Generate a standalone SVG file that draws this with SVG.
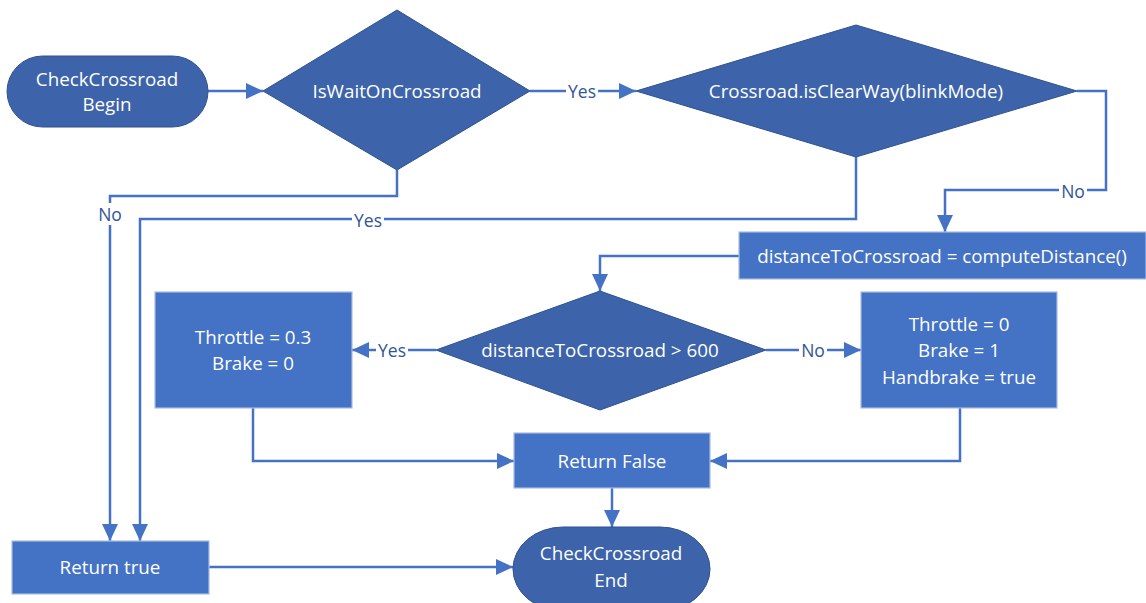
<svg xmlns="http://www.w3.org/2000/svg" width="1146" height="603" viewBox="0 0 1146 603">
<style>
.term{fill:#3D63AA;stroke:#2F528F;stroke-width:1}
.dec{fill:#3D63AA;stroke:#2F528F;stroke-width:1}
.proc{fill:#4472C4;stroke:#A9BCE0;stroke-width:1.2}
.t{font-family:"Open Sans","Liberation Sans",sans-serif;font-size:18.8px;fill:#FFFFFF;text-anchor:middle;dominant-baseline:central}
.c{fill:none;stroke:#4472C4;stroke-width:2.5}
.lbl{font-family:"Open Sans","Liberation Sans",sans-serif;font-size:17.5px;fill:#2F5597;text-anchor:middle;dominant-baseline:central}
.lb{fill:#FFFFFF}
</style>
<defs>
<marker id="ah" markerUnits="userSpaceOnUse" markerWidth="18" markerHeight="18" viewBox="0 0 18 18" refX="17" refY="9" orient="auto">
<path d="M0,1 L17,9 L0,17 Z" fill="#4472C4"/>
</marker>
</defs>
<rect width="1146" height="603" fill="#FFFFFF"/>
<g id="connectors">
<path class="c" d="M208,91 H263" marker-end="url(#ah)"/>
<path class="c" d="M530,91 H636" marker-end="url(#ah)"/>
<path class="c" d="M1077,91 H1106 V190 H945 V232" marker-end="url(#ah)"/>
<path class="c" d="M739,256 H600 V291" marker-end="url(#ah)"/>
<path class="c" d="M436,350 H352" marker-end="url(#ah)"/>
<path class="c" d="M766,350 H861" marker-end="url(#ah)"/>
<path class="c" d="M253,408 V461 H514" marker-end="url(#ah)"/>
<path class="c" d="M960,408 V461 H710" marker-end="url(#ah)"/>
<path class="c" d="M612,488 V527" marker-end="url(#ah)"/>
<path class="c" d="M209,567 H513" marker-end="url(#ah)"/>
<path class="c" d="M397,170 V196 H110 V541" marker-end="url(#ah)"/>
<path class="c" d="M856,157 V219 H140 V541" marker-end="url(#ah)"/>
<rect class="lb" x="566" y="81" width="32" height="20"/>
<text class="lbl" x="582" y="91">Yes</text>
<rect class="lb" x="1059" y="181" width="28" height="20"/>
<text class="lbl" x="1073" y="191">No</text>
<rect class="lb" x="376" y="340" width="32" height="20"/>
<text class="lbl" x="392" y="350">Yes</text>
<rect class="lb" x="799" y="340" width="28" height="20"/>
<text class="lbl" x="813" y="350">No</text>
<rect class="lb" x="97" y="203" width="26" height="22"/>
<text class="lbl" x="110" y="214">No</text>
<rect class="lb" x="352" y="210" width="32" height="20"/>
<text class="lbl" x="368" y="220">Yes</text>
</g>
<g id="begin">
<rect class="term" x="7" y="56" width="201" height="71" rx="35.5" ry="35.5"/>
<text class="t" x="107" y="79">CheckCrossroad</text>
<text class="t" x="107" y="104">Begin</text>
</g>
<g id="isWait">
<polygon class="dec" points="263,91 397,10 530,91 397,170"/>
<text class="t" x="397" y="91">IsWaitOnCrossroad</text>
</g>
<g id="isClear">
<polygon class="dec" points="636,91 856,25 1077,91 856,157"/>
<text class="t" x="856" y="91">Crossroad.isClearWay(blinkMode)</text>
</g>
<g id="computeDist">
<rect class="proc" x="739" y="232" width="407" height="47"/>
<text class="t" x="942" y="256">distanceToCrossroad = computeDistance()</text>
</g>
<g id="distCheck">
<polygon class="dec" points="436,350 600,291 766,350 600,410"/>
<text class="t" x="600" y="350">distanceToCrossroad &gt; 600</text>
</g>
<g id="throttle03">
<rect class="proc" x="155" y="292" width="197" height="116"/>
<text class="t" x="253" y="337">Throttle = 0.3</text>
<text class="t" x="253" y="363">Brake = 0</text>
</g>
<g id="throttle0">
<rect class="proc" x="861" y="292" width="196" height="116"/>
<text class="t" x="959" y="324">Throttle = 0</text>
<text class="t" x="959" y="350">Brake = 1</text>
<text class="t" x="959" y="377">Handbrake = true</text>
</g>
<g id="returnFalse">
<rect class="proc" x="514" y="433" width="196" height="55"/>
<text class="t" x="612" y="461">Return False</text>
</g>
<g id="returnTrue">
<rect class="proc" x="12" y="541" width="197" height="53"/>
<text class="t" x="110" y="567">Return true</text>
</g>
<g id="end">
<rect class="term" x="513" y="527" width="197" height="84" rx="50" ry="42"/>
<text class="t" x="611" y="553">CheckCrossroad</text>
<text class="t" x="611" y="580">End</text>
</g>
</svg>
